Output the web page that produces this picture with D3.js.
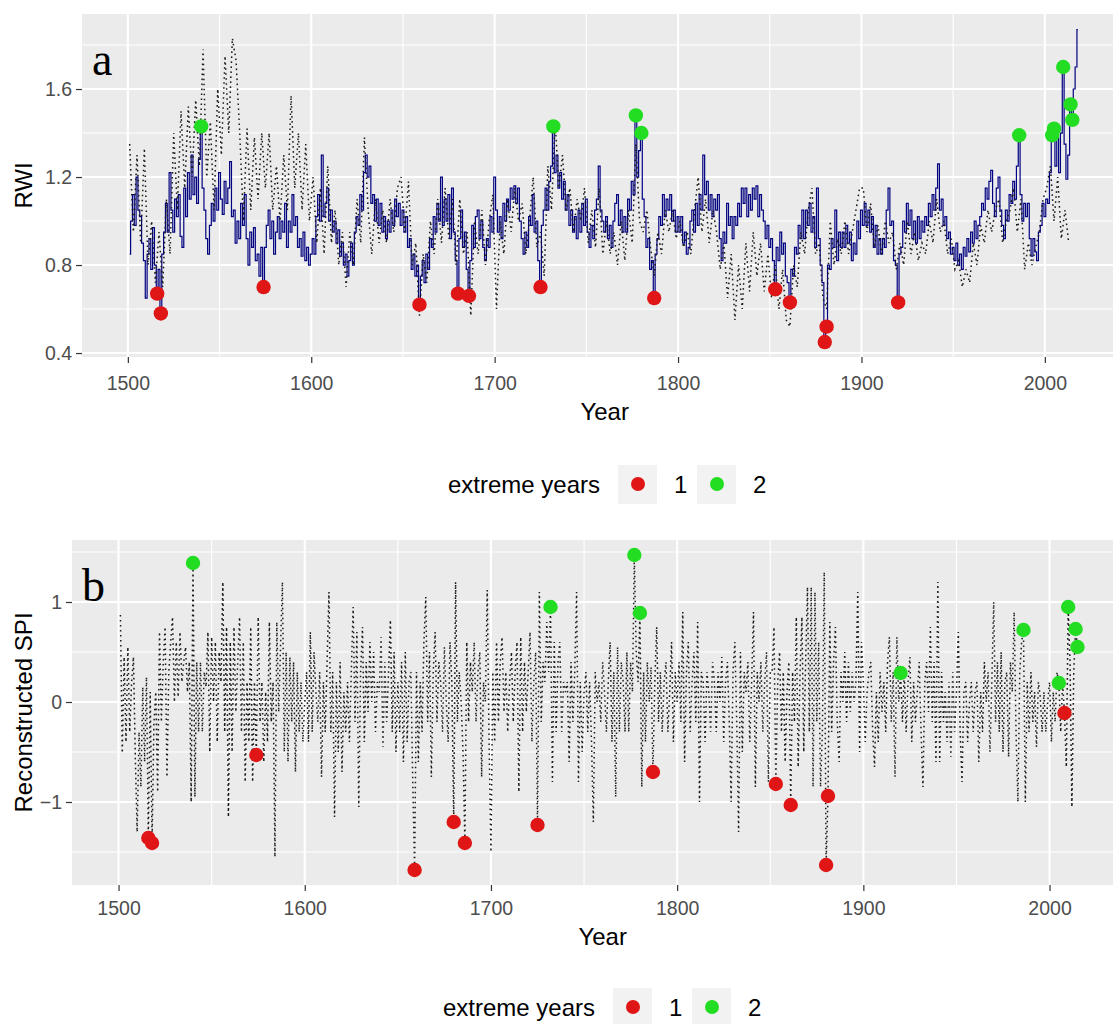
<!DOCTYPE html>
<html>
<head>
<meta charset="utf-8">
<script src="https://cdn.jsdelivr.net/npm/d3@7"></script>
<style>
  body { margin: 0; background: #fff; }
  svg { display: block; font-family: "Liberation Sans", Arial, sans-serif; }
</style>
</head>
<body>
<svg id="chart" width="1113" height="1024"></svg>
<script>
// ---- data ----
// ring width index (solid navy line), one value per year from 1501
const rwiStart = 1501;
const rwi = [
  0.85, 1.00, 1.12, 0.98, 1.20, 1.05, 1.02, 0.90, 0.82, 0.65,
  0.85, 0.92, 0.78, 0.97, 0.80, 0.67, 0.78, 0.58, 0.85, 0.95,
  1.08, 0.95, 1.22, 1.05, 0.95, 1.10, 1.02, 1.12, 0.93, 0.88,
  1.15, 1.02, 1.22, 1.10, 1.30, 1.12, 1.20, 1.08, 1.28, 1.43,
  1.15, 1.05, 0.92, 0.85, 0.98, 1.08, 1.00, 1.15, 1.05, 1.22,
  1.10, 1.03, 1.18, 1.08, 1.15, 1.27, 1.02, 1.05, 0.90, 1.00,
  0.92, 1.08, 0.98, 1.12, 0.92, 0.80, 0.95, 0.88, 0.97, 0.82,
  0.85, 0.75, 0.88, 0.70, 0.88, 0.98, 1.05, 0.92, 1.00, 0.85,
  0.95, 1.02, 0.92, 1.00, 0.95, 1.08, 0.88, 1.00, 0.95, 1.12,
  0.98, 1.02, 0.88, 0.92, 0.84, 0.95, 0.82, 0.88, 0.80, 0.85,
  0.92, 0.85, 1.02, 1.12, 1.00, 1.30, 1.02, 1.08, 1.15, 1.00,
  1.05, 0.95, 1.00, 0.90, 0.96, 0.84, 0.90, 0.80, 0.85, 0.75,
  0.82, 0.90, 0.80, 0.95, 1.02, 0.98, 1.12, 1.05, 1.22, 1.30,
  1.20, 1.25, 1.08, 1.12, 1.00, 1.10, 0.98, 1.08, 0.95, 1.02,
  0.92, 1.00, 0.95, 1.05, 0.98, 1.10, 1.02, 1.08, 0.98, 1.05,
  0.95, 1.02, 0.88, 0.92, 0.78, 0.85, 0.75, 0.80, 0.62, 0.75,
  0.82, 0.72, 0.85, 0.78, 0.92, 0.88, 1.02, 0.95, 1.08, 1.00,
  1.20, 0.98, 1.10, 1.00, 1.12, 0.92, 1.15, 0.95, 0.82, 0.67,
  0.92, 1.05, 0.88, 0.95, 0.78, 0.66, 0.82, 0.98, 0.88, 1.02,
  1.05, 0.92, 1.00, 0.88, 0.82, 0.92, 0.88, 1.02, 0.95, 1.20,
  1.05, 0.95, 1.02, 0.92, 1.08, 1.00, 1.10, 1.05, 1.15, 1.10,
  1.16, 1.08, 1.15, 1.00, 0.92, 0.85, 0.95, 0.88, 1.02, 0.98,
  1.12, 0.95, 1.00, 0.82, 0.70, 0.98, 1.05, 1.15, 1.05, 1.18,
  1.25, 1.43, 1.22, 1.30, 1.15, 1.22, 1.10, 1.18, 1.05, 1.12,
  0.98, 1.05, 0.95, 1.02, 0.92, 1.05, 0.95, 1.08, 0.98, 1.10,
  0.95, 0.88, 0.98, 0.92, 1.05, 1.10, 1.25, 1.05, 1.00, 0.95,
  1.02, 0.92, 0.98, 0.88, 1.00, 1.08, 1.12, 0.98, 1.05, 0.95,
  1.02, 0.95, 1.10, 1.05, 1.18, 1.12, 1.48, 1.20, 1.32, 1.40,
  1.10, 1.02, 0.88, 0.92, 0.78, 0.82, 0.65, 0.85, 0.92, 1.02,
  0.98, 1.12, 1.02, 1.10, 1.05, 1.12, 1.00, 1.05, 0.95, 1.02,
  0.95, 1.02, 0.90, 0.95, 0.85, 0.88, 1.00, 1.05, 0.95, 1.08,
  0.98, 1.12, 1.05, 1.30, 1.12, 1.18, 1.05, 1.12, 1.02, 1.10,
  1.05, 1.12, 0.92, 0.82, 0.95, 0.90, 1.08, 0.98, 1.02, 0.92,
  1.02, 0.98, 1.08, 1.02, 1.15, 1.08, 1.15, 1.02, 1.12, 1.05,
  1.15, 1.10, 1.16, 1.02, 1.12, 1.05, 1.00, 0.92, 0.98, 0.88,
  0.92, 0.82, 0.69, 0.88, 0.82, 0.95, 0.85, 0.90, 0.75, 0.72,
  0.63, 0.78, 0.75, 0.88, 0.85, 0.98, 0.92, 1.05, 0.92, 1.05,
  0.98, 1.08, 0.95, 1.02, 0.88, 1.15, 0.92, 0.80, 0.72, 0.45,
  0.52, 0.80, 0.78, 0.92, 0.88, 1.05, 0.82, 0.95, 0.88, 0.95,
  0.88, 0.98, 0.90, 0.95, 0.82, 0.90, 0.85, 1.00, 0.92, 1.05,
  0.98, 1.08, 0.98, 1.05, 0.95, 1.02, 0.88, 0.98, 0.85, 0.92,
  0.85, 0.92, 0.88, 1.05, 1.15, 0.98, 1.00, 0.82, 0.80, 0.63,
  0.85, 0.88, 1.00, 0.95, 1.08, 0.98, 1.05, 0.92, 1.00, 0.90,
  1.02, 0.92, 1.00, 0.95, 1.02, 0.98, 1.08, 1.02, 1.12, 1.05,
  1.15, 1.26, 1.05, 1.10, 0.98, 1.02, 0.92, 0.95, 0.85, 0.88,
  0.82, 0.90, 0.80, 0.85, 0.78, 0.88, 0.84, 0.92, 0.86, 0.95,
  0.90, 1.00, 0.92, 0.98, 1.02, 1.08, 1.05, 1.15, 1.10, 1.18,
  1.23, 1.08, 1.02, 1.15, 1.20, 1.05, 0.98, 0.92, 1.05, 1.00,
  1.12, 1.08, 1.18, 1.10, 1.25, 1.39, 1.12, 1.00, 1.08, 1.02,
  1.08, 0.92, 0.84, 0.92, 0.86, 0.82, 0.95, 0.98, 1.08, 1.02,
  1.10, 1.08, 1.22, 1.39, 1.42, 1.25, 1.38, 1.22, 1.40, 1.70,
  1.35, 1.19, 1.30, 1.53, 1.46, 1.60, 1.70, 1.87
];

// second chronology (dotted line in panel a), every second year from 1501
const rwiDotStart = 1501;
const rwiDotStep = 2;
const rwiDot = [
  1.35, 0.95, 1.30, 0.90, 1.33, 0.80, 1.00, 0.72, 0.95, 0.70,
  1.10, 0.85, 1.40, 1.05, 1.50, 1.15, 1.52, 1.20, 1.55, 1.25,
  1.78, 1.20, 1.45, 1.05, 1.60, 1.30, 1.75, 1.40, 1.83, 1.73,
  1.40, 1.00, 1.42, 1.05, 1.38, 1.10, 1.40, 1.15, 1.40, 1.05,
  1.25, 1.00, 1.30, 1.05, 1.57, 1.15, 1.40, 1.05, 1.35, 1.00,
  1.20, 0.90, 1.15, 0.85, 1.25, 0.90, 1.05, 0.80, 0.95, 0.70,
  0.95, 0.80, 1.10, 0.90, 1.38, 1.05, 0.85, 1.10, 0.90, 1.05,
  0.90, 1.10, 0.95, 1.15, 1.20, 0.95, 1.18, 0.80, 0.90, 0.57,
  0.85, 0.72, 1.00, 0.85, 1.10, 0.90, 1.15, 0.92, 1.10, 0.80,
  1.10, 0.85, 0.95, 0.57, 1.00, 0.85, 1.05, 0.80, 1.00, 1.12,
  0.60, 1.00, 0.85, 1.10, 0.95, 1.15, 1.00, 1.08, 0.85, 1.00,
  1.20, 0.88, 0.95, 0.75, 1.25, 1.05, 1.45, 1.15, 1.30, 1.05,
  1.15, 0.95, 1.10, 1.00, 1.15, 0.90, 1.05, 0.88, 1.15, 0.85,
  1.00, 0.85, 0.95, 0.80, 1.00, 0.82, 1.05, 0.90, 1.35, 1.00,
  0.95, 1.05, 0.88, 0.75, 0.95, 0.85, 1.05, 0.95, 1.05, 0.92,
  1.00, 0.88, 0.95, 0.85, 1.05, 1.20, 0.95, 1.10, 0.90, 1.05,
  0.95, 0.78, 0.90, 0.65, 0.85, 0.55, 0.80, 0.60, 0.90, 0.68,
  0.95, 0.75, 0.90, 0.68, 0.85, 0.65, 0.80, 0.60, 0.78, 0.55,
  0.52, 0.80, 0.70, 0.95, 0.85, 1.05, 1.15, 0.85, 0.90, 0.65,
  0.60, 1.00, 0.80, 0.92, 0.85, 1.00, 0.85, 0.95, 1.05, 1.15,
  1.15, 0.95, 1.08, 0.88, 0.98, 0.85, 1.00, 0.90, 0.95, 0.78,
  0.90, 0.80, 1.00, 0.85, 0.95, 0.82, 0.90, 0.85, 1.00, 0.90,
  1.10, 0.95, 1.00, 0.85, 0.92, 0.78, 0.82, 0.70, 0.78, 0.72,
  0.90, 0.80, 0.98, 0.90, 1.05, 0.95, 1.05, 1.10, 0.90, 1.00,
  1.05, 1.15, 0.95, 1.10, 0.78, 0.90, 0.80, 0.88, 0.95, 1.10,
  1.15, 1.25, 1.00, 1.20, 0.92, 1.05, 0.90
];

// reconstructed SPI (panel b), one value per year from 1501
const spiStart = 1501;
const spi = [
  0.87, -0.51, 0.45, -0.40, 0.55, -0.30, 0.20, 0.45, -0.55, -1.30,
  -0.30, -0.85, 0.15, -0.60, 0.25, -1.36, 0.10, -1.41, -0.20, 0.10,
  -0.90, 0.70, -0.20, 0.40, 0.75, -0.75, 0.30, 0.60, 0.85, 0.00,
  0.60, 0.05, 0.70, 0.20, 0.40, 0.55, 0.10, 0.40, -1.00, 1.39,
  -0.95, 0.40, -0.30, 0.40, -0.30, 0.30, 0.15, 0.70, -0.50, 0.65,
  0.00, 0.60, -0.40, 0.50, 0.20, 1.20, -0.30, 0.75, -1.15, 0.60,
  -0.50, 0.75, -0.10, 0.40, 0.85, -0.30, 0.60, -0.80, 0.20, -0.40,
  0.75, -0.80, 0.20, -0.53, 0.85, -0.20, 0.20, -0.60, 0.10, -0.40,
  0.80, -0.20, 0.20, -1.55, 0.80, -0.10, 0.55, 1.20, -0.50, 0.50,
  -0.60, 0.45, -0.20, 0.40, -0.70, 0.30, -0.30, 0.20, -0.40, 0.00,
  0.30, -0.40, 0.70, -0.30, 0.50, 0.10, -0.20, 0.30, -0.75, 0.20,
  -0.30, 0.40, 1.10, -0.30, 0.30, -1.15, 0.20, -0.50, 0.40, -0.70,
  0.10, -0.30, 0.20, -0.40, 0.30, 0.95, -0.20, 0.70, -1.05, 0.30,
  0.75, -0.40, 0.40, -0.10, 0.60, 0.00, 0.50, -0.30, 0.20, 0.10,
  0.65, -0.45, 0.40, -0.20, 0.30, 0.82, -0.30, 0.50, -0.50, 0.20,
  -0.30, 0.40, -0.60, 0.50, -0.40, 0.20, 0.30, -0.80, -1.68, 0.30,
  -0.60, 0.20, -0.30, 0.60, 1.05, -0.20, 0.50, -0.75, 0.30, 0.70,
  -0.20, 0.40, 0.20, -0.30, 0.55, 0.00, -0.40, 0.60, 0.20, -1.20,
  1.20, -0.20, 0.30, 0.00, -0.50, -1.41, 0.60, -0.20, 0.40, 0.10,
  0.60, -0.20, 0.30, 0.50, -0.75, 0.20, 0.00, 1.12, -0.40, -1.50,
  0.30, -0.40, 0.60, -0.20, 0.40, 0.65, -0.10, 0.30, -0.30, 0.20,
  0.50, -0.20, 0.30, 0.60, -0.90, 0.65, -0.30, 0.40, -0.10, 0.30,
  0.70, -0.40, 0.20, 0.50, -1.23, 1.10, -0.20, 0.40, 0.20, 0.80,
  0.30, 0.95, -0.80, 0.60, -0.30, 0.40, 0.60, -0.30, 0.20, 0.10,
  0.20, -0.60, 0.40, -0.20, 0.30, 1.10, -0.80, 0.20, -0.50, 0.10,
  0.30, -0.30, 0.20, -0.40, -1.20, 0.30, 0.00, 0.20, -0.20, 0.40,
  0.10, -0.30, 0.20, 0.60, -0.40, 0.30, -0.95, 0.55, -0.30, 0.40,
  0.20, -0.30, 0.50, -0.30, 0.40, 0.10, 1.47, 0.50, 0.20, 0.89,
  -0.85, 0.30, -0.40, 0.40, 0.00, 0.35, -0.70, 0.20, 0.75, -0.20,
  0.30, -0.30, 0.20, 0.40, -0.30, 0.10, 0.60, -0.40, 0.30, 0.00,
  0.40, -0.20, 0.90, -0.60, 0.30, 0.60, -0.30, 0.20, 0.50, -0.20,
  0.80, -1.00, 0.30, 0.20, -0.40, 0.30, 0.10, -0.30, 0.40, 0.20,
  -0.30, 0.30, 0.00, 0.45, -0.40, 0.20, 0.40, -0.20, -1.00, 0.30,
  0.60, -0.20, -1.30, 0.50, -0.50, 0.30, 0.10, 0.40, -0.40, 0.20,
  0.90, -0.85, 0.30, 0.00, 0.40, -0.30, 0.20, 0.50, -0.80, 0.30,
  0.30, 0.75, -0.82, 0.20, 0.50, -0.30, 0.30, -0.60, 0.10, 0.40,
  -1.03, 0.30, -0.20, 0.85, -0.65, 0.30, 0.85, -0.50, 0.40, 1.15,
  -0.30, 1.15, -0.85, 1.10, -0.20, 0.60, -0.85, -0.30, 1.30, -1.63,
  -0.94, 0.80, -0.30, 0.40, 0.75, -0.20, -0.60, 0.30, 0.00, 0.50,
  -0.20, 0.40, -0.10, 0.30, 0.00, 0.20, 1.10, -0.50, 0.60, 0.20,
  -0.40, 0.10, 0.30, 0.40, -0.30, -0.65, 0.10, -0.40, 0.30, -0.10,
  0.20, -0.30, 0.40, 0.65, -0.20, 0.30, -0.75, 0.65, 0.00, 0.29,
  -0.20, 0.30, -0.30, 0.20, 0.45, -0.40, 0.20, -0.20, 0.10, 0.40,
  -0.30, -0.85, 0.20, 0.40, -0.10, 0.75, -0.20, 0.40, -0.60, 1.20,
  -0.60, 0.30, -0.20, 0.10, -0.40, 0.20, -0.55, 0.30, -0.30, 0.10,
  0.70, -0.30, -0.80, 0.10, 0.20, -0.40, 0.00, 0.20, -0.30, 0.10,
  0.20, -0.60, 0.10, -0.30, 0.40, 0.00, 0.30, -0.50, 0.20, 1.00,
  -0.20, 0.40, -0.30, 0.50, -0.50, 0.20, 0.30, -0.55, 0.40, 0.10,
  0.90, -0.30, -1.00, 0.30, 0.60, 0.72, -1.00, 0.20, -0.30, 0.30,
  -0.20, 0.10, -0.45, 0.20, 0.05, -0.30, 0.10, -0.30, 0.00, 0.20,
  -0.40, 0.10, -0.20, 0.30, 0.19, -0.30, 0.20, -0.11, -0.65, 0.95,
  0.40, -1.05, 0.30, 0.73, 0.55
];

// extreme years, group 1 (red) and group 2 (green)
const rwiExtreme1 = [1516, 1518, 1574, 1659, 1680, 1686, 1725, 1787, 1853, 1861, 1880, 1881, 1920];
const rwiExtreme2 = [1540, 1732, 1777, 1780, 1986, 2004, 2005, 2010, 2014, 2015];
const spiExtreme1 = [1516, 1518, 1574, 1659, 1680, 1686, 1725, 1787, 1853, 1861, 1880, 1881, 2008];
const spiExtreme2 = [1540, 1732, 1777, 1780, 1920, 1986, 2005, 2010, 2014, 2015];

const yearTicks = [1500, 1600, 1700, 1800, 1900, 2000];
const rwiTicks = [0.4, 0.8, 1.2, 1.6];
const spiTicks = [-1, 0, 1];
const groupLabels = ["1", "2"];
const groupColors = ["#E01515", "#22DD22"];

// ---- drawing ----
const svg = d3.select("#chart");
const xLimits = [1475, 2045];

function toSeries(values, start, step) {
  return values.map((v, i) => ({ year: start + i * step, value: v }));
}

function pick(values, start, years) {
  return years.map(yr => ({ year: yr, value: values[yr - start] }));
}

// minor breaks halfway between the major ones, kept inside the limits
function minorBreaks(ticks, limits) {
  const step = ticks[1] - ticks[0];
  const out = [];
  for (let t = ticks[0] - step / 2; t <= limits[1]; t += step) {
    if (t >= limits[0]) out.push(+t.toFixed(6));
  }
  return out;
}

function drawPanel(p) {
  const x = d3.scaleLinear()
    .domain(xLimits)
    .range([p.left, p.left + (xLimits[1] - xLimits[0]) * p.pxPerYear]);
  const y = d3.scaleLinear().domain(p.yLimits).range([p.bottom, p.top]);
  const right = x.range()[1];
  const g = svg.append("g");

  g.append("rect")
    .attr("x", p.left).attr("y", p.top)
    .attr("width", right - p.left).attr("height", p.bottom - p.top)
    .attr("fill", "#EBEBEB");

  // grid
  g.selectAll(".vminor").data(minorBreaks(yearTicks, xLimits)).enter().append("line")
    .attr("x1", d => x(d)).attr("x2", d => x(d))
    .attr("y1", p.top).attr("y2", p.bottom)
    .attr("stroke", "#fff").attr("stroke-width", 1.1);
  g.selectAll(".hminor").data(minorBreaks(p.yTicks, p.yLimits)).enter().append("line")
    .attr("x1", p.left).attr("x2", right)
    .attr("y1", d => y(d)).attr("y2", d => y(d))
    .attr("stroke", "#fff").attr("stroke-width", 1.1);
  g.selectAll(".vmajor").data(yearTicks).enter().append("line")
    .attr("x1", d => x(d)).attr("x2", d => x(d))
    .attr("y1", p.top).attr("y2", p.bottom)
    .attr("stroke", "#fff").attr("stroke-width", 2.1);
  g.selectAll(".hmajor").data(p.yTicks).enter().append("line")
    .attr("x1", p.left).attr("x2", right)
    .attr("y1", d => y(d)).attr("y2", d => y(d))
    .attr("stroke", "#fff").attr("stroke-width", 2.1);

  // series
  p.lines.forEach(l => {
    const line = d3.line()
      .x(d => x(d.year)).y(d => y(d.value))
      .curve(l.step ? d3.curveStep : d3.curveLinear);
    g.append("path")
      .datum(l.data)
      .attr("d", line)
      .attr("fill", "none")
      .attr("stroke", l.color)
      .attr("stroke-width", l.width)
      .attr("stroke-dasharray", l.dash || null)
      .attr("stroke-linejoin", "miter");
  });

  // extreme years
  p.points.forEach((pts, k) => {
    g.selectAll(null).data(pts).enter().append("circle")
      .attr("cx", d => x(d.year)).attr("cy", d => y(d.value))
      .attr("r", 7.2)
      .attr("fill", groupColors[k]);
  });

  // axes
  const xAxis = g.append("g")
    .attr("transform", `translate(0,${p.bottom})`)
    .call(d3.axisBottom(x).tickValues(yearTicks).tickSize(6).tickFormat(d3.format("d")));
  const yAxis = g.append("g")
    .attr("transform", `translate(${p.left},0)`)
    .call(d3.axisLeft(y).tickValues(p.yTicks).tickSize(6).tickPadding(4).tickFormat(p.yFormat));
  [xAxis, yAxis].forEach(a => {
    a.select(".domain").remove();
    a.selectAll(".tick line").attr("stroke", "#333").attr("stroke-width", 1.2);
    a.selectAll(".tick text")
      .attr("fill", "#4D4D4D")
      .style("font-size", "19.5px")
      .style("font-family", '"Liberation Sans", Arial, sans-serif');
  });
  xAxis.selectAll(".tick text").attr("dy", null).attr("y", p.xLabelOffset);

  // titles
  const cx = (p.left + right) / 2;
  g.append("text")
    .attr("x", cx).attr("y", p.bottom + p.xTitleOffset)
    .attr("text-anchor", "middle")
    .style("font-size", "24px").attr("fill", "#000")
    .text("Year");
  g.append("text")
    .attr("transform", `translate(32,${(p.top + p.bottom) / 2}) rotate(-90)`)
    .attr("text-anchor", "middle")
    .style("font-size", "24px").attr("fill", "#000")
    .text(p.yTitle);
  g.append("text")
    .attr("x", p.left + 10).attr("y", p.top + 61)
    .style("font-family", '"Liberation Serif", "Times New Roman", serif')
    .style("font-size", "46px").attr("fill", "#000")
    .text(p.letter);

  // legend
  const lg = g.append("g").attr("transform", `translate(${p.legendX},${p.legendY})`);
  lg.append("text")
    .attr("x", 0).attr("y", 9)
    .style("font-size", "24px").attr("fill", "#000")
    .text("extreme years");
  groupLabels.forEach((lab, k) => {
    const bx = 170 + k * 79;
    lg.append("rect")
      .attr("x", bx).attr("y", -19).attr("width", 39).attr("height", 39)
      .attr("fill", "#F2F2F2");
    lg.append("circle")
      .attr("cx", bx + 20).attr("cy", 0).attr("r", 7)
      .attr("fill", groupColors[k]);
    lg.append("text")
      .attr("x", bx + 56).attr("y", 9)
      .style("font-size", "24px").attr("fill", "#000")
      .text(lab);
  });
}

drawPanel({
  left: 82, top: 14, bottom: 357, pxPerYear: 1.834,
  yLimits: [0.382, 1.941], yTicks: rwiTicks, yFormat: d3.format(".1f"),
  yTitle: "RWI", letter: "a",
  xLabelOffset: 33, xTitleOffset: 63,
  legendX: 448, legendY: 484,
  lines: [
    { data: toSeries(rwi, rwiStart, 1), color: "#000080", width: 1.2, step: true },
    { data: toSeries(rwiDot, rwiDotStart, rwiDotStep), color: "#1A1A1A", width: 1.5, dash: "1.6,3.4" }
  ],
  points: [pick(rwi, rwiStart, rwiExtreme1), pick(rwi, rwiStart, rwiExtreme2)]
});

drawPanel({
  left: 72, top: 540, bottom: 885, pxPerYear: 1.862,
  yLimits: [-1.83, 1.62], yTicks: spiTicks, yFormat: d3.format("d"),
  yTitle: "Reconstructed SPI", letter: "b",
  xLabelOffset: 30, xTitleOffset: 60,
  legendX: 443, legendY: 1007,
  lines: [
    { data: toSeries(spi, spiStart, 1), color: "#1A1A1A", width: 1.5, dash: "1.6,3.4" }
  ],
  points: [pick(spi, spiStart, spiExtreme1), pick(spi, spiStart, spiExtreme2)]
});
</script>
</body>
</html>
